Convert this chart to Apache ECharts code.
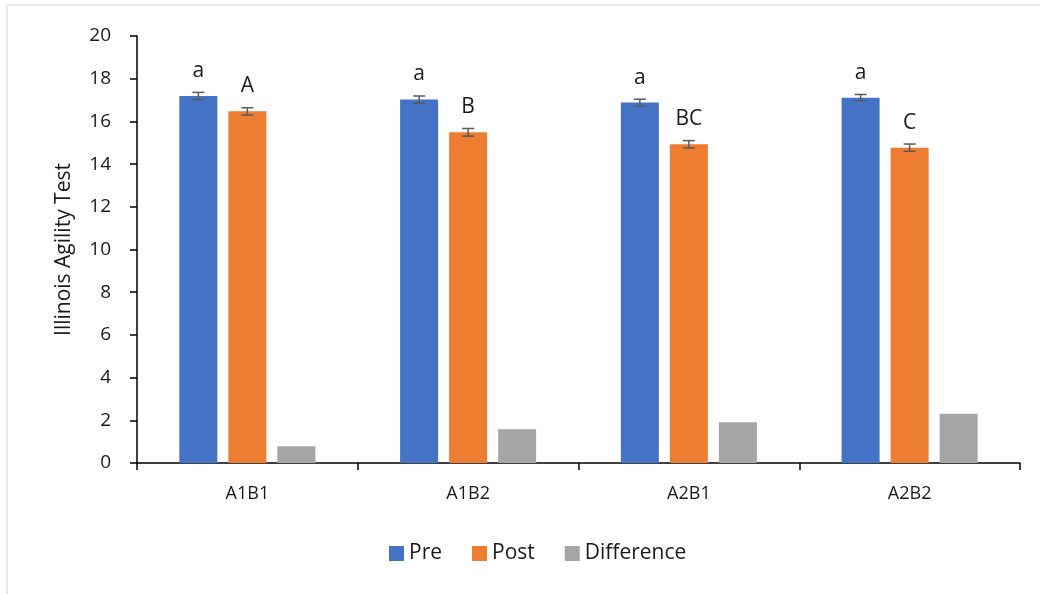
<!DOCTYPE html>
<html>
<head>
<meta charset="utf-8">
<script src="https://cdn.jsdelivr.net/npm/echarts@6/dist/echarts.min.js"></script>
<style>
html, body { margin: 0; padding: 0; background: #fff; }
#main { width: 1040px; height: 594px; }
</style>
</head>
<body>
<div id="main"></div>
<script>
var groups = ['A1B1', 'A1B2', 'A2B1', 'A2B2'];
var preVals = [17.19, 17.02, 16.88, 17.11];
var postVals = [16.47, 15.49, 14.93, 14.77];
var diffVals = [0.78, 1.58, 1.91, 2.31];
var preErr = [0.17, 0.17, 0.16, 0.15];
var postErr = [0.17, 0.18, 0.17, 0.17];
var preLetters = ['a', 'a', 'a', 'a'];
var postLetters = ['A', 'B', 'BC', 'C'];

var font = 'Open Sans';
var dom = document.getElementById('main');
var myChart = echarts.init(dom);

// error bar + letter drawn over one bar of the group (offset in px from category center)
function errSeries(name, vals, errs, letters, offset) {
    var data = [];
    for (var i = 0; i < vals.length; i++) {
        data.push([i, vals[i], errs[i], letters[i]]);
    }
    return {
        name: name + 'err',
        type: 'custom',
        z: 10,
        silent: true,
        data: data,
        renderItem: function (params, api) {
            var cx = api.coord([api.value(0), 0])[0] + offset;
            var hi = api.coord([0, api.value(1) + api.value(2)])[1];
            var lo = api.coord([0, api.value(1) - api.value(2)])[1];
            var st = { stroke: '#595959', lineWidth: 1.5 };
            return {
                type: 'group',
                children: [
                    { type: 'line', shape: { x1: cx, y1: hi, x2: cx, y2: lo }, style: st },
                    { type: 'line', shape: { x1: cx - 6, y1: hi, x2: cx + 6, y2: hi }, style: st },
                    { type: 'line', shape: { x1: cx - 6, y1: lo, x2: cx + 6, y2: lo }, style: st },
                    {
                        type: 'text',
                        style: {
                            x: cx, y: hi - 11,
                            text: data[params.dataIndex][3],
                            textAlign: 'center', textVerticalAlign: 'bottom',
                            font: '21px "' + font + '"', fill: '#1a1a1a'
                        }
                    }
                ]
            };
        }
    };
}

var option = {
    animation: false,
    color: ['#4472C4', '#ED7D31', '#A5A5A5'],
    grid: { left: 137, right: 20, top: 36, bottom: 131 },
    graphic: [
        { type: 'line', shape: { x1: 7, y1: 5, x2: 1040, y2: 5 }, style: { stroke: '#e3e3e3', lineWidth: 1.5 } },
        { type: 'line', shape: { x1: 7, y1: 5, x2: 7, y2: 594 }, style: { stroke: '#e3e3e3', lineWidth: 1.5 } }
    ],
    legend: {
        data: ['Pre', 'Post', 'Difference'],
        bottom: 25,
        left: 384,
        itemWidth: 15,
        itemHeight: 15,
        itemGap: 30,
        icon: 'rect',
        textStyle: { fontFamily: font, fontSize: 21, color: '#1a1a1a' }
    },
    xAxis: {
        type: 'category',
        data: groups,
        axisLine: { lineStyle: { color: '#000', width: 1.5 } },
        axisTick: { show: true, length: 7, lineStyle: { color: '#000', width: 1.5 } },
        axisLabel: { fontFamily: font, fontSize: 18, color: '#1a1a1a', margin: 22 }
    },
    yAxis: {
        type: 'value',
        min: 0, max: 20, interval: 2,
        name: 'Illinois Agility Test',
        nameLocation: 'middle',
        nameGap: 62,
        nameTextStyle: { fontFamily: font, fontSize: 21, color: '#1a1a1a' },
        axisLine: { show: true, lineStyle: { color: '#000', width: 1.5 } },
        axisTick: { show: true, length: 7, lineStyle: { color: '#000', width: 1.5 } },
        splitLine: { show: false },
        axisLabel: { fontFamily: font, fontSize: 19, color: '#1a1a1a', margin: 26 }
    },
    series: [
        { name: 'Pre', type: 'bar', data: preVals, barWidth: 38, barGap: '29%', barCategoryGap: '38%' },
        { name: 'Post', type: 'bar', data: postVals, barWidth: 38 },
        { name: 'Difference', type: 'bar', data: diffVals, barWidth: 38 },
        errSeries('Pre', preVals, preErr, preLetters, -49),
        errSeries('Post', postVals, postErr, postLetters, 0)
    ]
};
myChart.setOption(option);
</script>
</body>
</html>
